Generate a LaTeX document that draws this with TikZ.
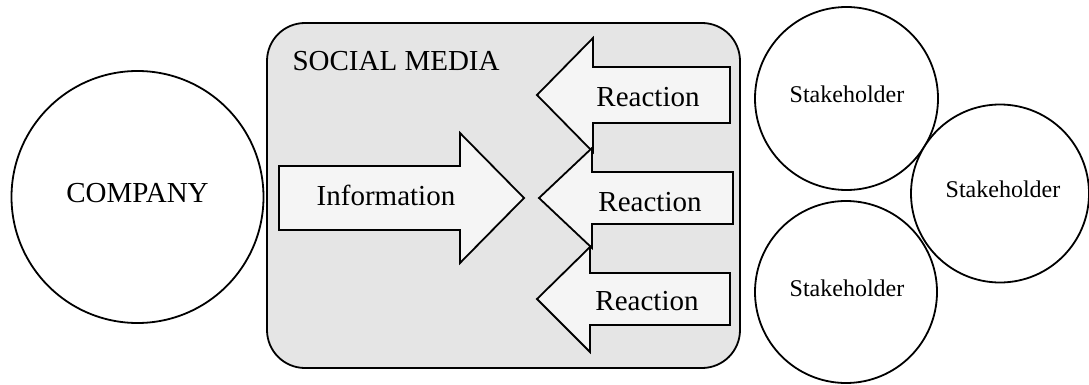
\documentclass[tikz,border=0pt]{standalone}
\usepackage{fontspec}
\setmainfont{Liberation Serif}
\begin{document}
\begin{tikzpicture}[x=1pt,y=-1pt,
  outline/.style={draw=black,line width=1.8pt,line join=miter},
  blob/.style={outline,fill=white},
  fatarrow/.style={outline,fill=black!4},
  media/.style={outline,fill=black!10,rounded corners=38pt},
  big/.style={font=\fontsize{29}{31}\selectfont},
  small/.style={font=\fontsize{24}{26}\selectfont}]
\useasboundingbox (0,0) rectangle (1089,385);

% company
\draw[blob] (137.5,197) circle[radius=126];
\node[big] (company) at (137.5,193) {COMPANY};

% social media panel
\draw[media] (267,23) rectangle (740,368);
\node[big,anchor=west] (social) at (289,61) {SOCIAL MEDIA};

% information arrow pointing right
\draw[fatarrow] (279,166) -- (460,166) -- (460,133) -- (524,198) -- (460,263)
  -- (460,230) -- (279,230) -- cycle;
\node[big] (info) at (386,195) {Information};

% reaction arrows pointing left
\draw[fatarrow] (730,67) -- (593,67) -- (593,38) -- (537,95) -- (593,152)
  -- (593,123) -- (730,123) -- cycle;
\node[big] (r1) at (648,97) {Reaction};
\draw[fatarrow] (733,172) -- (592,172) -- (592,148) -- (539,198) -- (592,248)
  -- (592,224) -- (733,224) -- cycle;
\node[big] (r2) at (650,202) {Reaction};
\draw[fatarrow] (730,273) -- (590,273) -- (590,247) -- (537,299) -- (590,352)
  -- (590,325) -- (730,325) -- cycle;
\node[big] (r3) at (647,301) {Reaction};

% stakeholders
\draw[blob] (846.5,98.5) circle[radius=91.5];
\node[small] (s1) at (847,94) {Stakeholder};
\draw[blob] (1000,193.5) circle[radius=89];
\node[small] (s2) at (1003,189) {Stakeholder};
\draw[blob] (846,292) circle[radius=91];
\node[small] (s3) at (847,288) {Stakeholder};
\end{tikzpicture}
\end{document}
